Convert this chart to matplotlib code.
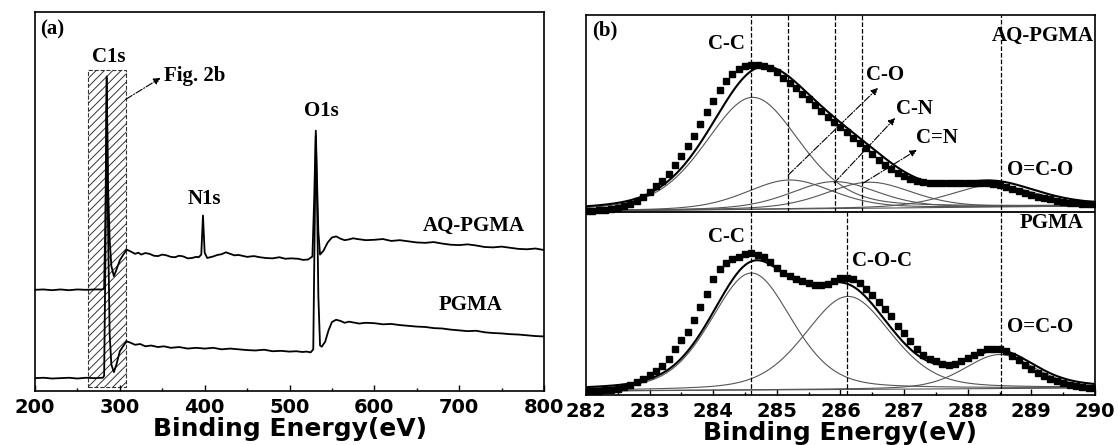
import numpy as np
import matplotlib.pyplot as plt
from matplotlib.patches import Rectangle

plt.rcParams['hatch.linewidth'] = 0.7

# ---------------- (a) XPS survey spectra ----------------
aq_survey_e = [200, 210, 220, 230, 240, 250, 260, 270, 280, 281.5, 283, 284.5, 286, 288,
               290, 293, 296, 300, 305, 308, 312, 318, 322, 325, 330, 335, 340, 345,
               350, 355, 360, 365, 370, 375, 380, 385, 390, 393, 396, 398, 400, 403,
               410, 415, 420, 425, 430, 435, 440, 450, 458, 465, 472, 480, 488, 495,
               502, 510, 516, 522, 527, 529, 531, 532.5, 534, 536, 540, 545, 550, 555,
               560, 565, 570, 575, 580, 590, 600, 610, 620, 630, 640, 650, 660, 670,
               680, 690, 700, 710, 720, 730, 740, 750, 760, 770, 780, 790, 800]
aq_survey_i = [26.7, 26.8, 26.6, 26.8, 26.6, 26.8, 26.7, 26.8, 26.8, 27.2, 45, 83, 55, 40,
               33, 30.3, 32, 34.5, 36.3, 37.3, 36.9, 36.2, 36.5, 36.0, 36.4, 36.2, 35.7, 35.6,
               36.0, 35.8, 35.4, 35.3, 35.7, 35.5, 35.0, 35.1, 35.4, 35.3, 36, 46.3, 36.5, 35.1,
               35.5, 35.9, 36.1, 36.6, 36.2, 35.8, 35.9, 35.4, 35.6, 35.3, 35.1, 35.0, 35.3, 34.9,
               35.0, 34.9, 34.6, 34.7, 35.5, 50, 68.7, 55, 42, 36, 37, 39.2, 40.5, 40.8,
               40.2, 39.8, 40.0, 40.3, 40.1, 39.8, 39.9, 40.1, 39.6, 39.8, 39.5, 39.2, 39.1, 39.3,
               38.9, 38.6, 38.5, 38.7, 38.4, 38.0, 37.9, 38.1, 37.8, 37.5, 37.4, 37.6, 37.2]

pg_survey_e = [200, 210, 220, 230, 240, 250, 260, 270, 280, 281.5, 283, 284.6, 286, 288,
               290, 293, 296, 300, 305, 308, 312, 318, 324, 330, 337, 345, 352, 360,
               370, 380, 390, 400, 410, 420, 430, 440, 450, 460, 470, 480, 490, 500,
               508, 515, 520, 525, 528, 529.5, 531, 532.5, 534, 536, 538, 542, 546, 550,
               555, 560, 565, 570, 575, 582, 590, 600, 610, 620, 630, 640, 650, 660,
               670, 680, 690, 700, 710, 720, 730, 740, 750, 760, 770, 780, 790, 800]
pg_survey_i = [3.4, 3.5, 3.3, 3.4, 3.5, 3.3, 3.5, 3.4, 3.5, 4.0, 35, 82.5, 45, 15,
               7, 5.0, 7, 10.5, 12.2, 13.1, 12.8, 12.2, 12.4, 11.8, 12.0, 11.6, 11.8, 11.4,
               11.6, 11.2, 11.4, 11.2, 11.4, 11.0, 11.2, 11.0, 10.8, 10.7, 10.9, 10.5, 10.6, 10.4,
               10.5, 10.3, 10.4, 10.2, 11, 40, 67.3, 50, 25, 12, 11.7, 13, 16, 18.2,
               18.8, 18.5, 18.0, 18.3, 18.1, 17.8, 18.0, 17.9, 17.6, 17.7, 17.4, 17.2, 17.0, 16.9,
               16.6, 16.5, 16.2, 16.0, 15.8, 15.9, 15.5, 15.3, 15.2, 15.0, 14.9, 14.7, 14.5, 14.4]

# ---------------- (b) C1s high resolution ----------------
c1s_e = np.round(np.arange(282.0, 290.05, 0.1), 1)
aq_c1s = [184, 184, 185, 185, 186, 187, 189, 191, 194, 198,
          203, 209, 214, 221, 230, 239, 249, 259, 271, 283,
          294, 305, 314, 321, 326, 329, 330, 330, 329, 327,
          323, 317, 312, 307, 301, 296, 290, 284, 278, 273,
          268, 263, 257, 252, 247, 241, 235, 230, 226, 222,
          219, 216, 214, 213, 212, 212, 212, 212, 212, 212,
          212, 212, 212, 212, 211, 210, 208, 206, 204, 202,
          200, 198, 197, 196, 194, 193, 192, 192, 191, 191, 191]
pg_c1s = [3.5, 3.8, 4.2, 4.6, 5.0, 6.0, 7.5, 9.5, 12.5, 15.5,
          20, 23.5, 29, 36, 46, 55, 63, 75, 88, 101,
          116, 126, 132, 135.5, 138, 140.5, 141.5, 140, 137.5, 133,
          127, 122, 118.5, 116, 113.5, 111.5, 109.8, 109.5, 111, 114,
          116.5, 117, 115.5, 111.5, 106, 100, 93, 85.5, 78.5, 69,
          61.5, 53.5, 45.5, 39.5, 36, 33.5, 31, 30, 30.7, 33.5,
          36.5, 39.5, 43, 45.5, 46.3, 46, 43.8, 39.2, 34.5, 30,
          25.5, 21.5, 18.5, 15.8, 13.5, 11.8, 10.2, 9.0, 7.8, 7.2, 6.8]

# fitted components: centre (eV), height, FWHM (eV)
aq_names = ['C-C', 'C-O', 'C-N', 'C=N', 'O=C-O']
aq_centre = [284.62, 285.20, 285.90, 286.45, 288.40]
aq_height = [112, 29, 27, 26, 22]
aq_fwhm = [1.75, 1.6, 1.6, 1.6, 1.6]
aq_bg = [184, 189]

pg_names = ['C-C', 'C-O-C', 'O=C-O']
pg_centre = [284.60, 286.12, 288.50]
pg_height = [117, 93, 34]
pg_fwhm = [1.5, 1.6, 1.3]
pg_bg = [4, 7]

divider = 183


def gl(e, c, h, w, m=0.3):
    d = 4 * (e - c) ** 2 / w ** 2
    return h * ((1 - m) * np.exp(-np.log(2) * d) + m / (1 + d))


serif = dict(family='Liberation Serif', fontweight='bold', fontsize=15)

fig = plt.figure(figsize=(11.18, 4.45), dpi=100)
ax1 = fig.add_axes([0.0313, 0.1213, 0.4553, 0.8517])
ax2 = fig.add_axes([0.5241, 0.1124, 0.4553, 0.8539])

# ----- panel a -----
ax1.plot(aq_survey_e, aq_survey_i, color='k', lw=1.3)
ax1.plot(pg_survey_e, pg_survey_i, color='k', lw=1.3)
ax1.add_patch(Rectangle((262.9, 1.1), 307.3 - 262.9, 84.8 - 1.1, fill=False,
                        hatch='////', ls='--', lw=0.8, edgecolor='#333333'))
ax1.annotate('', xy=(348, 82.6), xytext=(307.3, 77),
             arrowprops=dict(arrowstyle='-|>', ls='-.', lw=0.8, color='k',
                             mutation_scale=10, shrinkA=0, shrinkB=0))
ax1.text(352, 83.2, 'Fig. 2b', ha='left', va='center', **serif)
ax1.text(287, 88, 'C1s', ha='center', va='center', **serif)
ax1.text(400, 50.7, 'N1s', ha='center', va='center', **serif)
ax1.text(537, 74, 'O1s', ha='center', va='center', **serif)
ax1.text(717, 43.5, 'AQ-PGMA', ha='center', va='center', **serif)
ax1.text(714, 22.8, 'PGMA', ha='center', va='center', **serif)
ax1.text(205.5, 95.4, '(a)', ha='left', va='center', **serif)
ax1.set_xlim(200, 800)
ax1.set_ylim(0, 100)
ax1.set_xticks(np.arange(200, 801, 100))
ax1.set_xticks(np.arange(250, 800, 100), minor=True)

# ----- panel b -----
eg = np.linspace(282, 290, 500)
for bg, names, cen, hgt, fw, data in [
        (aq_bg, aq_names, aq_centre, aq_height, aq_fwhm, aq_c1s),
        (pg_bg, pg_names, pg_centre, pg_height, pg_fwhm, pg_c1s)]:
    base = np.interp(eg, [282, 290], bg)
    total = base.copy()
    for c, h, w in zip(cen, hgt, fw):
        comp = gl(eg, c, h, w)
        total += comp
        ax2.plot(eg, base + comp, color='#555555', lw=0.8)
    ax2.plot(eg, base, color='#555555', lw=0.8)
    ax2.plot(eg, total, color='k', lw=1.5)
    ax2.plot(c1s_e, data, ls='none', marker='s', ms=4.6, color='k')

ax2.axhline(divider, color='k', lw=1.3)
for e in [284.60, 288.53]:
    ax2.plot([e, e], [0, 380], color='k', ls='--', lw=0.9)
for e in [285.17, 285.92, 286.34]:
    ax2.plot([e, e], [divider, 380], color='k', ls='--', lw=0.9)
ax2.plot([286.11, 286.11], [0, divider], color='k', ls='--', lw=0.9)

arrows = [((285.18, 220), (286.59, 307)),
          ((285.90, 212), (286.86, 277)),
          ((286.36, 212), (287.20, 245))]
for start, end in arrows:
    ax2.annotate('', xy=end, xytext=start,
                 arrowprops=dict(arrowstyle='-|>', ls='-.', lw=0.8, color='k',
                                 mutation_scale=10, shrinkA=0, shrinkB=0))

ax2.text(284.21, 350.7, 'C-C', ha='center', va='center', **serif)
ax2.text(286.40, 320, 'C-O', ha='left', va='center', **serif)
ax2.text(286.88, 286, 'C-N', ha='left', va='center', **serif)
ax2.text(287.19, 257, 'C=N', ha='left', va='center', **serif)
ax2.text(288.61, 225, 'O=C-O', ha='left', va='center', **serif)
ax2.text(289.98, 359, 'AQ-PGMA', ha='right', va='center', **serif)
ax2.text(289.31, 172, 'PGMA', ha='center', va='center', **serif)
ax2.text(284.21, 158, 'C-C', ha='center', va='center', **serif)
ax2.text(286.18, 134, 'C-O-C', ha='left', va='center', **serif)
ax2.text(288.61, 68, 'O=C-O', ha='left', va='center', **serif)
ax2.text(282.1, 365, '(b)', ha='left', va='center', **serif)
ax2.set_xlim(282, 290)
ax2.set_ylim(0, 380)
ax2.set_xticks(np.arange(282, 290.1, 1))
ax2.set_xticks(np.arange(282.5, 290, 1), minor=True)

for ax in (ax1, ax2):
    ax.set_yticks([])
    for s in ax.spines.values():
        s.set_linewidth(1.2)
    ax.tick_params(axis='x', which='major', direction='in', length=4, width=1,
                   pad=5, labelsize=14)
    ax.tick_params(axis='x', which='minor', direction='in', length=2.5, width=1)
    for lab in ax.get_xticklabels():
        lab.set_fontweight('bold')
    ax.set_xlabel('Binding Energy(eV)', fontsize=18, fontweight='bold', labelpad=0)

fig.savefig('out.png', dpi=100)
